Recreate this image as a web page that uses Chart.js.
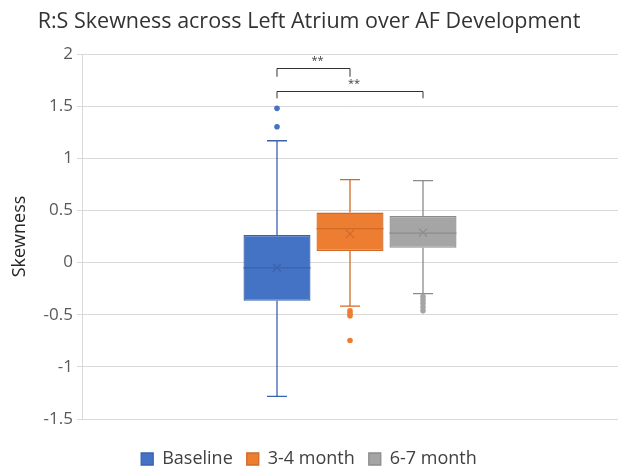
<!DOCTYPE html>
<html>
<head>
<meta charset="utf-8">
<script src="https://cdn.jsdelivr.net/npm/chart.js@4.4.0/dist/chart.umd.min.js"></script>
<style>
  html, body { margin: 0; padding: 0; background: #fff; }
</style>
</head>
<body>
<canvas id="chart" width="618" height="469"></canvas>
<script>
// box plot values
const groups = ['Baseline', '3-4 month', '6-7 month'];
const q1 = [-0.367, 0.112, 0.141];
const q3 = [0.265, 0.479, 0.447];
const medians = [-0.051, 0.326, 0.282];
const means = [-0.05, 0.275, 0.287];
const whiskerLow = [-1.283, -0.418, -0.297];
const whiskerHigh = [1.168, 0.795, 0.785];
const outliers = [
  [1.479, 1.303],
  [-0.463, -0.489, -0.51, -0.747],
  [-0.326, -0.357, -0.389, -0.427, -0.463]
];

// significance brackets: from group -> to group, at height, with label
const bracketFrom = [0, 0];
const bracketTo = [1, 2];
const bracketLevel = [1.862, 1.645];
const bracketDrop = [0.08, 0.07];
const bracketLabels = ['**', '**'];

const fills = ['#4472C4', '#ED7D31', '#A5A5A5'];
const strokes = ['#3A63AE', '#D06A27', '#8C8C8C'];

const FONT = "'Open Sans', sans-serif";

// draws whiskers, medians, means, outliers and brackets on top of the floating bars
const boxExtras = {
  id: 'boxExtras',
  afterDatasetsDraw(chart) {
    const ctx = chart.ctx;
    const y = chart.scales.y;
    const centers = [];

    groups.forEach((g, i) => {
      const bar = chart.getDatasetMeta(i).data[0];
      const cx = bar.x;
      const half = bar.width / 2;
      centers.push(cx);

      ctx.save();
      ctx.strokeStyle = strokes[i];
      ctx.lineWidth = 1.3;
      ctx.beginPath();
      // upper whisker + cap
      ctx.moveTo(cx, y.getPixelForValue(q3[i]));
      ctx.lineTo(cx, y.getPixelForValue(whiskerHigh[i]));
      ctx.moveTo(cx - 10, y.getPixelForValue(whiskerHigh[i]));
      ctx.lineTo(cx + 10, y.getPixelForValue(whiskerHigh[i]));
      // lower whisker + cap
      ctx.moveTo(cx, y.getPixelForValue(q1[i]));
      ctx.lineTo(cx, y.getPixelForValue(whiskerLow[i]));
      ctx.moveTo(cx - 10, y.getPixelForValue(whiskerLow[i]));
      ctx.lineTo(cx + 10, y.getPixelForValue(whiskerLow[i]));
      // median
      ctx.moveTo(cx - half, y.getPixelForValue(medians[i]));
      ctx.lineTo(cx + half, y.getPixelForValue(medians[i]));
      ctx.stroke();

      // mean marker (x)
      const my = y.getPixelForValue(means[i]);
      ctx.lineWidth = 1.2;
      ctx.beginPath();
      ctx.moveTo(cx - 4, my - 4);
      ctx.lineTo(cx + 4, my + 4);
      ctx.moveTo(cx + 4, my - 4);
      ctx.lineTo(cx - 4, my + 4);
      ctx.stroke();

      // outliers
      ctx.fillStyle = fills[i];
      outliers[i].forEach(v => {
        ctx.beginPath();
        ctx.arc(cx, y.getPixelForValue(v), 2.8, 0, Math.PI * 2);
        ctx.fill();
      });
      ctx.restore();
    });

    // significance brackets
    ctx.save();
    ctx.strokeStyle = '#333333';
    ctx.fillStyle = '#404040';
    ctx.lineWidth = 1;
    ctx.font = '11px ' + FONT;
    ctx.textAlign = 'center';
    ctx.textBaseline = 'bottom';
    bracketLabels.forEach((lab, k) => {
      const x1 = centers[bracketFrom[k]];
      const x2 = centers[bracketTo[k]];
      const top = Math.round(y.getPixelForValue(bracketLevel[k])) + 0.5;
      const end = y.getPixelForValue(bracketLevel[k] - bracketDrop[k]);
      ctx.beginPath();
      ctx.moveTo(x1, end);
      ctx.lineTo(x1, top);
      ctx.lineTo(x2, top);
      ctx.lineTo(x2, end);
      ctx.stroke();
      ctx.fillText(lab, (x1 + x2) / 2 + 4, top - 2);
    });
    ctx.restore();
  }
};

const datasets = groups.map((g, i) => ({
  label: g,
  data: [[q1[i], q3[i]]],
  backgroundColor: fills[i],
  borderColor: strokes[i],
  borderWidth: 1.3,
  borderSkipped: false,
  categoryPercentage: 0.4086,
  barPercentage: 0.918
}));

new Chart(document.getElementById('chart'), {
  type: 'bar',
  data: { labels: [''], datasets: datasets },
  options: {
    responsive: false,
    animation: false,
    layout: { padding: { top: 0, right: 0, bottom: -9, left: 0 } },
    plugins: {
      tooltip: { enabled: false },
      title: {
        display: true,
        text: 'R:S Skewness across Left Atrium over AF Development',
        color: '#333333',
        font: { family: FONT, size: 21.5, weight: 'normal', lineHeight: 1.2 },
        padding: { top: 8.6, bottom: 19.6 }
      },
      legend: {
        position: 'bottom',
        labels: {
          boxWidth: 12,
          boxHeight: 12,
          padding: 14,
          color: '#404040',
          font: { family: FONT, size: 18 }
        }
      }
    },
    scales: {
      x: {
        display: true,
        ticks: { display: false },
        grid: { display: false, drawTicks: false },
        border: { display: false },
        afterFit(scale) { scale.height = 17; }
      },
      y: {
        min: -1.5,
        max: 2,
        ticks: {
          stepSize: 0.5,
          padding: 4,
          color: '#595959',
          font: { family: FONT, size: 17 },
          callback: v => String(Math.round(v * 10) / 10)
        },
        grid: { color: '#D9D9D9', lineWidth: 1, tickLength: 5 },
        border: { display: true, color: '#D9D9D9' },
        title: {
          display: true,
          text: 'Skewness',
          color: '#262626',
          font: { family: FONT, size: 18 },
          padding: { top: 9, bottom: 0 }
        },
        afterFit(scale) { scale.width = 82; }
      }
    }
  },
  plugins: [boxExtras]
});
</script>
</body>
</html>
